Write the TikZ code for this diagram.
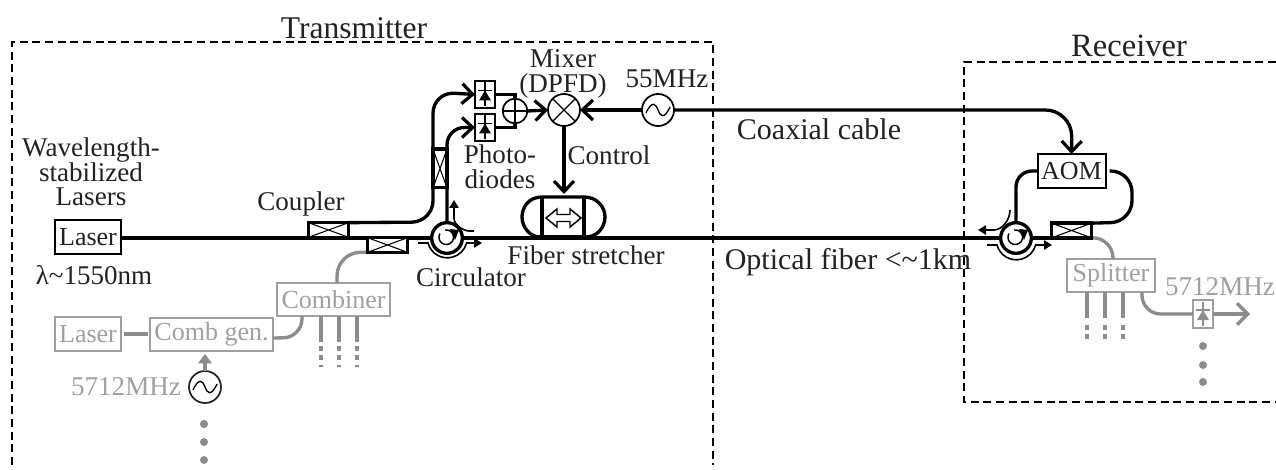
\documentclass[tikz,border=0pt]{standalone}
\usepackage{fontspec}
\setmainfont{Liberation Serif}
\usetikzlibrary{arrows.meta,calc}
\definecolor{ink}{HTML}{222222}
\definecolor{gl}{HTML}{8C8C90}
\definecolor{gt}{HTML}{A0A0A0}
\tikzset{
  x=.75pt,y=-.75pt,
  lab/.style={font=\fontsize{20.3}{18.5}\selectfont,text=ink,inner sep=0pt,align=center},
  biglab/.style={lab,font=\fontsize{22.5}{24}\selectfont},
  glab/.style={lab,text=gt},
  box/.style={draw=black,line width=1.5pt,fill=white,inner sep=0pt,outer sep=0pt,font=\fontsize{19.5}{18.5}\selectfont,text=ink},
  gbox/.style={box,draw=gt,text=gt},
  fib/.style={line width=2.5pt,draw=black},
  gfib/.style={line width=2.5pt,draw=gl},
  wire/.style={line width=2.5pt,draw=black},
  tip/.style={-{Straight Barb[length=8pt,width=15pt,line width=2.4pt]}},
  sm/.style={-{Triangle[length=6pt,width=7pt]},line width=1.2pt},
  coup/.style={draw=black,line width=2.5pt,fill=white,inner sep=0pt,outer sep=0pt,minimum width=30pt,minimum height=11pt,
    path picture={\draw[line width=.8pt] (path picture bounding box.south west)--(path picture bounding box.north east) (path picture bounding box.north west)--(path picture bounding box.south east);}},
  vcoup/.style={coup,minimum width=10.5pt,minimum height=29pt},
  rnd/.style={draw,circle,inner sep=0pt,outer sep=0pt,minimum size=24pt,line width=1.3pt,fill=white},
  wave/.pic={\draw[line width=1pt,pic actions] (-12,3) .. controls (-6,-10) and (-2,-6) .. (0,0) .. controls (2,6) and (6,10) .. (12,-3);},
  pdsym/.pic={
    \draw[line width=1pt] (0,-12)--(0,12);
    \draw[line width=1pt] (-7,-4)--(7,-4);
    \fill (0,-4)--(-6,6)--(6,6)--cycle;},
  pdg/.pic={
    \draw[line width=1pt,gl] (0,-12)--(0,12);
    \draw[line width=1pt,gl] (-7,-4)--(7,-4);
    \fill[gl] (0,-4)--(-6,6)--(6,6)--cycle;},
}
\begin{document}
\begin{tikzpicture}
\useasboundingbox (0,0) rectangle (1276,470);
% dashed enclosures
\coordinate (ta) at (12,465); \coordinate (tb) at (12,42); \coordinate (tc) at (713,42); \coordinate (td) at (713,465);
\draw[line width=1.5pt,dash pattern=on 6pt off 3.5pt] (ta)--(tb)--(tc)--(td);
\coordinate (ra) at (1276,62); \coordinate (rb) at (964,62); \coordinate (rc) at (964,402); \coordinate (rd) at (1276,402);
\draw[line width=1.5pt,dash pattern=on 6pt off 3.5pt] (ra)--(rb)--(rc)--(rd);
\node[lab,font=\fontsize{23.7}{24}\selectfont] (ttx) at (354,28) {Transmitter};
\node[lab,font=\fontsize{24.4}{26}\selectfont] (trx) at (1129,46) {Receiver};
% nodes
\node[box,minimum width=49.5pt,minimum height=25pt] (laser) at (88,237) {Laser};
\node[coup] (c1) at (328.5,230) {};
\node[coup] (c2) at (387.5,245) {};
\node[vcoup] (c3) at (440,168.5) {};
\node[box,minimum width=15pt,minimum height=20pt] (pd1) at (485,94.5) {};
\node[box,minimum width=15pt,minimum height=20pt] (pd2) at (485,127.5) {};
\node[rnd,minimum size=18.5pt] (sum) at (515,111) {};
\node[rnd] (mix) at (564,110) {};
\node[rnd] (osc) at (658,110) {};
\node[box,minimum width=51pt,minimum height=25.5pt] (aom) at (1071.5,171) {AOM};
\node[inner sep=0pt,outer sep=0pt,minimum width=31.5pt,minimum height=30pt] (st) at (563,217) {};
\coordinate (circA) at (447,238);
\coordinate (circB) at (1016,238);
\node[coup] (c4) at (1071.5,230.5) {};
\coordinate (fibL) at (122,238);
\coordinate (fibR) at (1051,238);
% fibres
\draw[fib] (fibL)--(fibR);
\draw[fib,rounded corners=16pt,tip] (c1.north east) -- (433,222) -- (433,92) -- (pd1.west);
\draw[fib,rounded corners=13pt,tip] (447,222)--(447,127.5)--(pd2.west);
\node[vcoup] at (c3) {};
\draw[fib,rounded corners=12pt] (1016,222)--(1016,171)--(aom.west);
\draw[fib,rounded corners=16pt] (aom.east)++(4,0)--(1132,171)--(1132,222)--(c4.north east);
% mixer etc
\path (mix.45) coordinate (m1) (mix.225) coordinate (m2) (mix.135) coordinate (m3) (mix.315) coordinate (m4);
\draw[line width=1pt] (m1)--(m2) (m3)--(m4);
\draw[line width=1pt] (sum.west)--(sum.east) (sum.north)--(sum.south);
\draw[wire] (pd1.east)-|(sum.north);
\draw[wire] (pd2.east)-|(sum.south);
\draw[wire,tip] (sum.east)--(mix.west);
\draw[wire,tip] (osc.west)--(mix.east);
\draw[wire,rounded corners=20pt,tip] (osc.east)--(1072,110)--(aom.north);
\draw[wire,tip] (mix.south)--(564,194);
\pic at (osc) {wave};
\pic at (pd1) {pdsym};
\pic at (pd2) {pdsym};
% stretcher
\draw[line width=2.5pt,fill=white] (st.north west) .. controls (528,197) and (522,208) .. (522,217) .. controls (522,227) and (530,238) .. (st.south west)--(st.south east) .. controls (597,238) and (605,227) .. (605,217) .. controls (605,207) and (597,197) .. (st.north east)--cycle;
\draw[line width=2.5pt] (st.north west)--(st.south west) (st.north east)--(st.south east);
\draw[fib] (st.south west)--(st.south east);
\draw[line width=1.1pt,fill=white] (546,218)--(557,209)--(557,214.5)--(570,214.5)--(570,209)--(581,218)--(570,227)--(570,221.5)--(557,221.5)--(557,227)--cycle;
% circulators
\begin{scope}[shift={(circA)}]
\draw[line width=2.5pt,fill=white] (0,0) circle[radius=11.5pt];
\draw[line width=1.1pt] (-2,-8) arc[start angle=100,end angle=-210,radius=5.5pt];
\fill (3,-9)--(12,-8)--(8,2)--cycle;
\draw[sm] (-29,5)--(-19,5) arc[start angle=195,end angle=345,radius=15pt] --(35,5);
\draw[sm] (27,-7)--(22,-7) .. controls (18,-7) and (7,-12) .. (7,-20)--(7,-38);
\end{scope}
\begin{scope}[shift={(circB)}]
\draw[line width=2.5pt,fill=white] (0,0) circle[radius=11.5pt];
\draw[line width=1.1pt] (-2,-8) arc[start angle=100,end angle=-210,radius=5.5pt];
\fill (3,-9)--(12,-8)--(8,2)--cycle;
\draw[sm] (-29,7)--(-19,7) arc[start angle=195,end angle=345,radius=15pt] --(36,7);
\draw[sm] (-6,-28) .. controls (-6,-18) and (-14,-8) .. (-22,-8)--(-38,-8);
\end{scope}
% gray parts
\node[gbox,minimum width=49.5pt,minimum height=25pt] (glaser) at (88,334) {Laser};
\node[gbox,minimum width=92pt,minimum height=25pt] (comb) at (211.5,334.5) {Comb gen.};
\node[gbox,minimum width=85pt,minimum height=25pt] (combi) at (333.5,299.5) {Combiner};
\node[rnd,draw=ink] (gosc) at (205,387) {};
\node[glab] (t57a) at (126,387) {5712MHz};
\draw[gfib] (glaser.east)++(3,0)--(148,334);
\draw[gfib,rounded corners=14pt] (comb.east)++(0,3.5)--(302,337.5)--(302,316);
\draw[gfib,rounded corners=18pt] (337,283)--(337,252)--(c2.south west);
\node[coup] at (c2) {};
\draw[gl,line width=2.5pt,-{Triangle[length=7pt,width=10pt]}] (gosc.north)--(205,354);
\pic at (gosc) {wave};
\foreach \i/\xx in {a/321,b/339,c/357}{
  \coordinate (s\i) at (\xx,342); \coordinate (e\i) at (\xx,367); \coordinate (u\i) at (\xx,316);
  \draw[gfib] (u\i)--(s\i);
  \draw[gfib,dash pattern=on 3.5pt off 3.5pt] (\xx,346)--(e\i);
}
\foreach \yy in {424,442,460} \fill[gl] (204,\yy) circle[radius=3pt];
% gray receiver
\node[gbox,minimum width=66pt,minimum height=25pt] (split) at (1111,275.5) {Splitter};
\draw[gfib,rounded corners=15pt] (c4.south east)--(1113,238)--(1113,259);
\node[coup] at (c4) {};
\foreach \i/\xx in {a/1087,b/1105,c/1123}{
  \coordinate (t\i) at (\xx,318); \coordinate (w\i) at (\xx,343); \coordinate (v\i) at (\xx,292);
  \draw[gfib] (v\i)--(t\i);
  \draw[gfib,dash pattern=on 3.5pt off 3.5pt] (\xx,325)--(w\i);
}
\node[gbox,minimum width=15pt,minimum height=21pt] (pd3) at (1203,314) {};
\pic at (pd3) {pdg};
\coordinate (gout) at (1250,314);
\draw[gfib,rounded corners=14pt] (1142,292)--(1142,314)--(pd3.west);
\draw[gfib,-{Straight Barb[length=8pt,width=16pt,line width=2.4pt]}] (pd3.east)--(gout);
\node[glab] (t57b) at (1220,287) {5712MHz};
\foreach \yy in {346,365,382} \fill[gl] (1203,\yy) circle[radius=3pt];
% labels
\node[lab] (t1) at (91,172) {Wavelength-\\stabilized\\Lasers};
\node[lab] (t2) at (94,275) {λ\textasciitilde 1550nm};
\node[lab] (t3) at (301,204) {Coupler};
\node[lab] (t4) at (471,277) {Circulator};
\node[lab] (t5) at (586,255) {Fiber stretcher};
\node[biglab] (t6) at (848,262) {Optical fiber <\textasciitilde 1km};
\node[lab] (t7) at (500,167) {Photo-\\diodes};
\node[lab] (t8) at (609,155) {Control};
\node[lab] (t9) at (563,74) {Mixer\\(DPFD)};
\node[lab] (t10) at (667,79) {55MHz};
\node[biglab] (t11) at (819,129) {Coaxial cable};
\end{tikzpicture}
\end{document}
